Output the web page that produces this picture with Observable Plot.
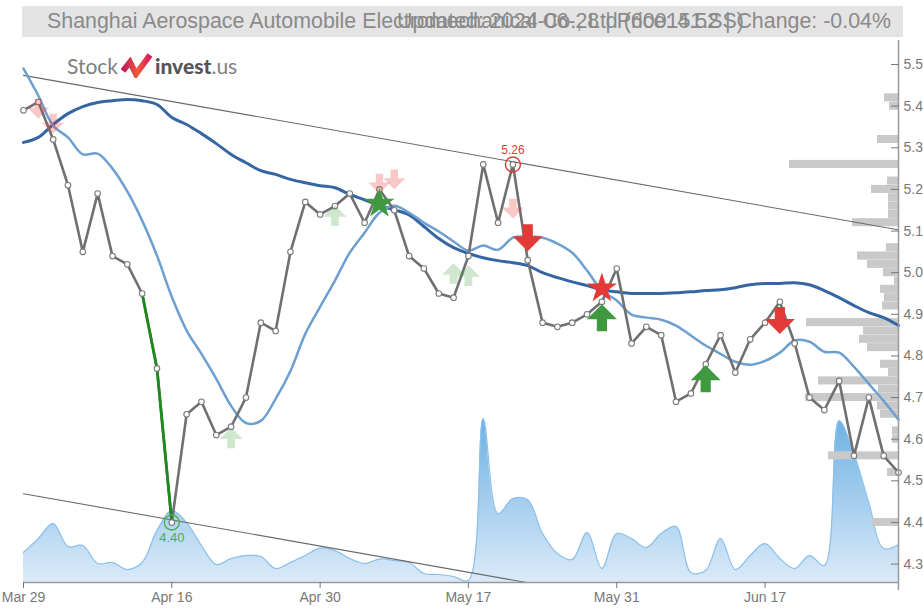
<!DOCTYPE html>
<html>
<head>
<meta charset="utf-8">
<script src="https://cdn.jsdelivr.net/npm/d3@7"></script>
<script src="https://cdn.jsdelivr.net/npm/@observablehq/plot@0.6"></script>
<style>
  body { margin: 0; background: #fff; }
  #wrap { position: relative; width: 923px; height: 610px; overflow: hidden; background: #fff; }
  #chart { position: absolute; left: 0; top: 0; }
  #title { position: absolute; left: 22px; top: 6px; width: 881px; height: 31px; background: #e4e4e4;
           font-family: "Liberation Sans", Arial, sans-serif; font-size: 21.4px; color: #8a8a8a; line-height: 31px; }
  #title .l { position: absolute; left: 25px; top: 0; white-space: nowrap; }
  #title .r { position: absolute; right: 12px; top: 0; white-space: nowrap; }
  #logo { position: absolute; left: 67px; top: 51px; height: 28px; display: flex; align-items: center;
          font-family: Lato, "Open Sans", sans-serif; font-size: 21px; color: #808080; }
</style>
</head>
<body>
<div id="wrap">
  <div id="chart"></div>
  <div id="title"><span class="l">Shanghai Aerospace Automobile Electromechanical Co., Ltd (600151.SS)</span><span class="r">Updated: 2024-06-28 | Price: 4.52 | Change: -0.04%</span></div>
  <div id="logo">
    <span>Stock</span>
    <svg width="32" height="26" viewBox="0 0 32 26" style="margin:0 2px 0 3px">
      <defs><linearGradient id="lg" x1="0" x2="1" y1="0" y2="0"><stop offset="0" stop-color="#c2185b"/><stop offset="0.55" stop-color="#ef5a3a"/><stop offset="1" stop-color="#d81b60"/></linearGradient></defs>
      <path d="M2,19 L9,10 L15,22 L29,3" fill="none" stroke="url(#lg)" stroke-width="6"/>
    </svg>
    <span style="font-weight:900;color:#555">invest</span><span>.us</span>
  </div>
</div>
<script>
// ---------------- data ----------------
const dates = ["Mar 29","Apr 1","Apr 2","Apr 3","Apr 8","Apr 9","Apr 10","Apr 11","Apr 12","Apr 15",
  "Apr 16","Apr 17","Apr 18","Apr 19","Apr 22","Apr 23","Apr 24","Apr 25","Apr 26","Apr 29",
  "Apr 30","May 6","May 7","May 8","May 9","May 10","May 13","May 14","May 15","May 16",
  "May 17","May 20","May 21","May 22","May 23","May 24","May 27","May 28","May 29","May 30",
  "May 31","Jun 3","Jun 4","Jun 5","Jun 6","Jun 7","Jun 11","Jun 12","Jun 13","Jun 14",
  "Jun 17","Jun 18","Jun 19","Jun 20","Jun 21","Jun 24","Jun 25","Jun 26","Jun 27","Jun 28"];

const close = [5.39,5.41,5.32,5.21,5.05,5.19,5.04,5.02,4.95,4.77,
  4.40,4.66,4.69,4.61,4.63,4.70,4.88,4.86,5.05,5.17,
  5.14,5.16,5.19,5.12,5.20,5.15,5.04,5.01,4.95,4.94,
  5.04,5.26,5.12,5.26,5.03,4.88,4.87,4.88,4.90,4.93,
  5.01,4.83,4.87,4.85,4.69,4.71,4.78,4.85,4.76,4.84,
  4.88,4.93,4.83,4.70,4.67,4.74,4.56,4.70,4.56,4.52];

const maShort = [5.490,5.425,5.353,5.325,5.284,5.286,5.250,5.195,5.125,5.041,
  4.942,4.861,4.805,4.745,4.680,4.639,4.644,4.697,4.764,4.853,
  4.918,4.981,5.048,5.096,5.144,5.161,5.144,5.120,5.099,5.075,
  5.053,5.065,5.055,5.084,5.087,5.084,5.070,5.048,5.005,4.957,
  4.933,4.899,4.892,4.887,4.873,4.849,4.825,4.805,4.786,4.779,
  4.788,4.808,4.837,4.834,4.810,4.808,4.774,4.733,4.692,4.647];

const maLong = [5.313,5.325,5.356,5.382,5.399,5.409,5.413,5.416,5.413,5.404,
  5.373,5.356,5.334,5.310,5.284,5.264,5.245,5.236,5.224,5.216,
  5.209,5.204,5.188,5.175,5.161,5.151,5.139,5.111,5.082,5.060,
  5.046,5.036,5.029,5.024,5.017,5.000,4.988,4.978,4.969,4.959,
  4.954,4.950,4.950,4.950,4.952,4.954,4.957,4.959,4.964,4.971,
  4.974,4.974,4.976,4.971,4.957,4.940,4.921,4.904,4.892,4.873];

const volume = [3.0,4.4,5.9,3.6,3.7,1.9,2.0,1.3,2.0,5.2,
  7.2,6.0,3.7,1.8,2.4,2.7,2.6,1.4,2.0,2.7,
  3.45,3.2,2.4,1.9,2.35,2.2,2.0,0.9,0.8,0.6,
  0.2,16.4,6.9,8.4,8.3,4.9,2.9,2.3,5.0,1.4,
  4.9,4.4,3.5,4.9,5.6,1.0,1.2,4.4,1.3,2.7,
  3.9,2.4,1.4,2.7,1.7,16.2,12.9,8.0,3.4,3.8];

const profilePrice  = [5.42,5.40,5.32,5.26,5.22,5.20,5.18,5.16,5.14,5.12,5.06,5.04,5.02,5.00,4.98,4.96,4.94,4.92,
  4.88,4.86,4.84,4.82,4.78,4.76,4.74,4.72,4.70,4.68,4.66,4.62,4.60,4.56,4.52,4.40];
const profileVolume = [1.4,0.9,2.1,10.9,1.1,2.7,1.0,1.0,1.0,4.6,1.2,4.1,3.1,1.5,0.4,1.8,1.4,1.6,
  9.2,3.5,3.9,3.1,1.8,1.0,8.0,2.0,9.3,2.1,1.8,0.6,0.6,7.0,1.1,2.6];

const trendUpper = [5.474, 5.103];   // at first and last trading day
const trendLower = [4.469, 4.098];

const tickLabels = ["Mar 29","Apr 16","Apr 30","May 17","May 31","Jun 17"];
const priceTicks = [4.3,4.4,4.5,4.6,4.7,4.8,4.9,5.0,5.1,5.2,5.3,5.4,5.5];

const weakSellIdx = [1,2,24,25,33];      const weakSellPrice = [5.394,5.358,5.214,5.224,5.154];
const weakBuyIdx  = [14,21,29,30];       const weakBuyPrice  = [4.603,5.137,4.998,4.993];
const sellIdx     = [34,51];             const sellPrice     = [5.084,4.885];
const buyIdx      = [39,46];             const buyPrice      = [4.892,4.745];
const buyStarIdx  = [24];                const buyStarPrice  = [5.166];
const sellStarIdx = [39];                const sellStarPrice = [4.962];
const highIdx = 33, lowIdx = 10, dropStartIdx = 8;

// ---------------- chart ----------------
const n = dates.length, last = n - 1;
const yDomain = [4.2558, 5.5577];
const span = yDomain[1] - yDomain[0];
const vMax = d3.max(volume);
const volY = v => yDomain[0] + v / vMax * span * 0.302;
const pMax = d3.max(profileVolume);
const profX = v => last - v / pMax * last * 0.1246;

const rows = dates.map((d, i) => ({i, d, close: close[i], s: maShort[i], l: maLong[i], v: volume[i]}));
const prof = profilePrice.map((p, k) => ({p, v: profileVolume[k]}));
const trends = [
  {i: 0, y: trendUpper[0], k: "u"}, {i: last, y: trendUpper[1], k: "u"},
  {i: 0, y: trendLower[0], k: "l"}, {i: last, y: trendLower[1], k: "l"}
];
const pts = (idx, pr) => idx.map((i, k) => ({i, p: pr[k]}));

function arrow(dir) {
  return {draw(ctx, size) {
    const r = Math.sqrt(size / Math.PI), h = 0.9 * r, sw = 0.34 * r, s = dir === "down" ? 1 : -1, neck = -0.1 * r;
    ctx.moveTo(-sw, s * -h); ctx.lineTo(sw, s * -h); ctx.lineTo(sw, s * neck); ctx.lineTo(r, s * neck);
    ctx.lineTo(0, s * h); ctx.lineTo(-r, s * neck); ctx.lineTo(-sw, s * neck); ctx.closePath();
  }};
}
const down = arrow("down"), up = arrow("up");

const defs = () => {
  const g = d3.create("svg:defs");
  const lg = g.append("linearGradient").attr("id", "volGrad").attr("x1", 0).attr("x2", 0).attr("y1", 0).attr("y2", 1);
  lg.append("stop").attr("offset", 0).attr("stop-color", "#6db1e4");
  lg.append("stop").attr("offset", 1).attr("stop-color", "#dbeaf8");
  return g.node();
};

const red = "#e23a36", green = "#3f9a3f";

const chart = Plot.plot({
  width: 923, height: 610,
  marginTop: 40, marginBottom: 28, marginLeft: 23, marginRight: 25,
  style: {fontFamily: "'Liberation Sans', Arial, sans-serif", fontSize: "14px", color: "#777", background: "transparent"},
  x: {domain: [0, last], axis: null, label: null},
  y: {domain: yDomain, axis: null, label: null},
  marks: [
    defs,
    Plot.areaY(rows, {x: "i", y1: yDomain[0], y2: d => volY(d.v), curve: "catmull-rom", fill: "url(#volGrad)", clip: true}),
    Plot.lineY(rows, {x: "i", y: d => volY(d.v), curve: "catmull-rom", stroke: "#8cc0ea", strokeWidth: 1.2, clip: true}),
    Plot.rect(prof, {x1: d => profX(d.v), x2: last, y1: d => d.p - 0.0097, y2: d => d.p + 0.0097, fill: "#c9c9c9"}),
    Plot.line(trends, {x: "i", y: "y", z: "k", stroke: "#6a6a6a", strokeWidth: 1.1, clip: true}),
    Plot.lineY(rows, {x: "i", y: "l", curve: "catmull-rom", stroke: "#3566a3", strokeWidth: 3}),
    Plot.lineY(rows, {x: "i", y: "s", curve: "catmull-rom", stroke: "#6d9fd1", strokeWidth: 2.5}),
    Plot.lineY(rows, {x: "i", y: "close", stroke: "#707070", strokeWidth: 2.6}),
    Plot.lineY(rows.slice(dropStartIdx, lowIdx + 1), {x: "i", y: "close", stroke: "#1c8a1c", strokeWidth: 2.8}),
    Plot.dot(rows, {x: "i", y: "close", r: 2.8, fill: "#fff", stroke: "#7a7a7a", strokeWidth: 1.1}),
    Plot.dot(pts(weakSellIdx, weakSellPrice), {x: "i", y: "p", symbol: down, r: 11, fill: red, fillOpacity: 0.28, stroke: "none"}),
    Plot.dot(pts(weakBuyIdx, weakBuyPrice), {x: "i", y: "p", symbol: up, r: 11.5, fill: green, fillOpacity: 0.25, stroke: "none"}),
    Plot.dot(pts(sellIdx, sellPrice), {x: "i", y: "p", symbol: down, r: 15, fill: red, stroke: "none"}),
    Plot.dot(pts(buyIdx, buyPrice), {x: "i", y: "p", symbol: up, r: 15, fill: green, stroke: "none"}),
    Plot.dot(pts(buyStarIdx, buyStarPrice), {x: "i", y: "p", symbol: "star", r: 9.5, fill: green, stroke: "none"}),
    Plot.dot(pts(sellStarIdx, sellStarPrice), {x: "i", y: "p", symbol: "star", r: 9.5, fill: red, stroke: "none"}),
    Plot.dot([rows[highIdx]], {x: "i", y: "close", r: 7.5, fill: "none", stroke: red, strokeWidth: 1.4}),
    Plot.text([rows[highIdx]], {x: "i", y: "close", text: d => d.close.toFixed(2), dy: -14, fill: red, fontSize: 12}),
    Plot.dot([rows[lowIdx]], {x: "i", y: "close", r: 7.5, fill: "none", stroke: "#4caf50", strokeWidth: 1.4}),
    Plot.text([rows[lowIdx]], {x: "i", y: "close", text: d => d.close.toFixed(2), dy: 15, fill: "#4caf50", fontSize: 13}),
    Plot.ruleY([yDomain[0]], {stroke: "#9a9a9a", strokeWidth: 1.5}),
    Plot.ruleX([last], {stroke: "#9a9a9a", strokeWidth: 1.5, insetBottom: -8}),
    Plot.axisX({ticks: tickLabels.map(t => dates.indexOf(t)), tickFormat: i => dates[i], tickSize: 6, tickPadding: 4, fontSize: 14, label: null}),
    Plot.axisY({anchor: "right", ticks: priceTicks, tickSize: 8, dx: -8, tickFormat: () => "", label: null}),
    Plot.axisY({anchor: "right", ticks: priceTicks, tickSize: 0, tickPadding: 5, tickFormat: d3.format(".1f"), fontSize: 14, label: null})
  ]
});
document.getElementById("chart").appendChild(chart);
</script>
</body>
</html>
